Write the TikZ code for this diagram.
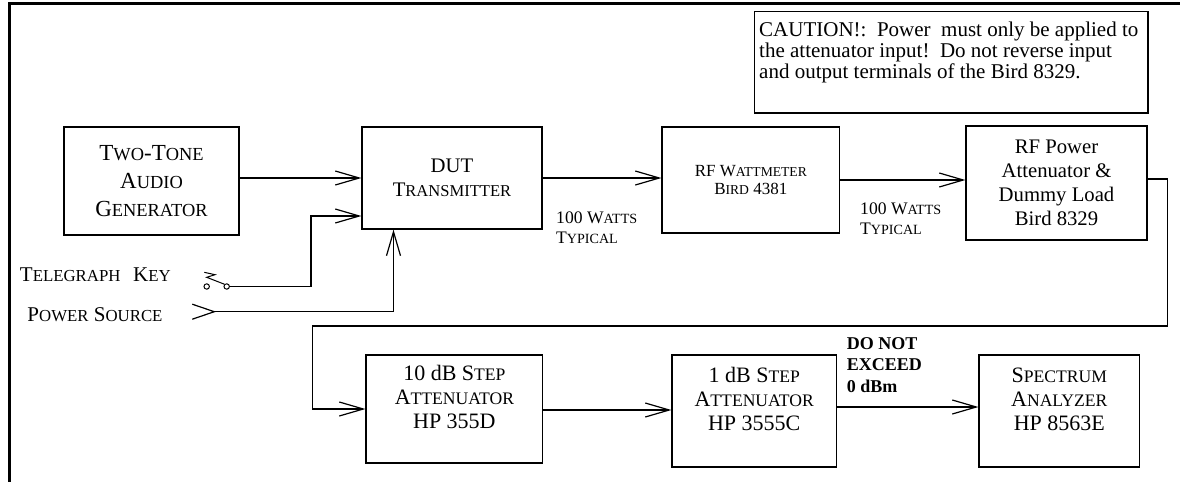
\documentclass[tikz,border=0pt]{standalone}
\usepackage{fontspec}
\setmainfont{Liberation Serif}
\usetikzlibrary{arrows.meta,calc}
\makeatletter
\newcommand\SCx[1]{{\fontsize{\fpeval{0.8*\f@size}}{\f@baselineskip}\selectfont #1}}
\makeatother
\tikzset{
  box/.style={draw, line width=1.2pt, inner sep=0pt, align=center},
  arr/.style={line width=1.2pt, -{Straight Barb[length=24pt,width=14pt]}},
  ln/.style={line width=1.2pt},
  lbl/.style={inner sep=0pt, align=left},
}
\begin{document}
\begin{tikzpicture}[x=1pt,y=-1pt]
\useasboundingbox (0,0) rectangle (1180,482);
% frame
\draw[line width=3pt] (1180,3) -- (9,3) -- (9,482);

% caution box
\node[box, minimum width=393.5pt, minimum height=101.5pt] (caution) at (951.3,62.3) {};
\node[lbl, anchor=north west, font=\fontsize{21}{21}\selectfont] (cautiontxt) at (759,22)
  {CAUTION!:\ \ Power\ \ must only be applied to\\the attenuator input!\ \ Do not reverse input\\and output terminals of the Bird 8329.};

% top row
\node[box, minimum width=175pt, minimum height=108pt, font=\fontsize{23}{28}\selectfont] (two) at (151.5,181)
  {T\SCx{WO}-T\SCx{ONE}\\A\SCx{UDIO}\\G\SCx{ENERATOR}};
\node[box, minimum width=180pt, minimum height=102pt, font=\fontsize{20.7}{24.5}\selectfont] (dut) at (452,178)
  {DUT\\T\SCx{RANSMITTER}};
\node[box, minimum width=177.5pt, minimum height=106pt, font=\fontsize{17}{18.5}\selectfont] (watt) at (750.8,180)
  {RF W\SCx{ATTMETER}\\B\SCx{IRD} 4381};
\node[box, minimum width=181pt, minimum height=114pt, font=\fontsize{20.7}{23.8}\selectfont] (bird) at (1056.5,183)
  {RF Power\\Attenuator \&\\Dummy Load\\Bird 8329};

% bottom row
\node[box, minimum width=176.7pt, minimum height=108pt, font=\fontsize{22}{24}\selectfont] (att10) at (454.4,409)
  {10 dB S\SCx{TEP}\\A\SCx{TTENUATOR}\\HP 355D\\\mbox{}};
\node[box, minimum width=164.4pt, minimum height=112pt, font=\fontsize{22}{24}\selectfont] (att1) at (754.2,411)
  {1 dB S\SCx{TEP}\\A\SCx{TTENUATOR}\\HP 3555C\\\mbox{}};
\node[box, minimum width=160.5pt, minimum height=112pt, font=\fontsize{22}{24}\selectfont] (spec) at (1059.3,411)
  {S\SCx{PECTRUM}\\A\SCx{NALYZER}\\HP 8563E\\\mbox{}};

% side labels
\node[lbl, font=\fontsize{21}{24}\selectfont] (tele) at (95.3,275) {T\SCx{ELEGRAPH}\hspace{0.6em}K\SCx{EY}};
\node[lbl, font=\fontsize{21}{24}\selectfont] (psrc) at (95,315) {P\SCx{OWER} S\SCx{OURCE}};
\node[lbl, anchor=west, font=\fontsize{17.6}{20}\selectfont] (w1) at (556,228) {100 W\SCx{ATTS}\\T\SCx{YPICAL}};
\node[lbl, anchor=west, font=\fontsize{17.6}{20}\selectfont] (w2) at (860,219) {100 W\SCx{ATTS}\\T\SCx{YPICAL}};
\node[lbl, anchor=west, font=\bfseries\fontsize{18}{21.5}\selectfont] (dne) at (846.7,364.8) {DO NOT\\EXCEED\\0 dBm};

% telegraph key switch
\node[circle, draw, line width=1pt, inner sep=0pt, minimum size=5.4pt] (keyA) at (206.7,286.5) {};
\node[circle, draw, line width=1pt, inner sep=0pt, minimum size=5.4pt] (keyB) at (226.7,286.5) {};
\draw[line width=1pt] (204.3,272.3) -- (215,274.7) -- (206.7,277.3) -- (keyB.north west);

% helper coordinates
\coordinate (tk) at (311,286.5);
\coordinate (y216) at (0,216);
\coordinate (ps) at (214.3,311.7);
\coordinate (psup) at (393.5,311.7);
\coordinate (fbA) at (1167.7,179);
\coordinate (fbB) at (1167.7,326);
\coordinate (fbC) at (312.7,326);
\coordinate (fbD) at (312.7,409);
\coordinate (y410) at (0,410);
\coordinate (y407) at (0,407);

% connectors
\draw[arr] (two.east |- dut.west) -- (dut.west);
\draw[arr] (keyB.east) -- (tk) -- (tk |- y216) -- (dut.west |- y216);
\draw[ln] ($(ps)+(-22,-7.5)$) -- (ps) -- ($(ps)+(-22,7.5)$);
\draw[arr] (ps) -- (psup) -- (psup |- dut.south);
\draw[arr] (dut.east) -- (watt.west |- dut.east);
\draw[arr] (watt.east) -- (bird.west |- watt.east);
\draw[arr] (bird.east |- fbA) -- (fbA) -- (fbB) -- (fbC) -- (fbD) -- (att10.west |- fbD);
\draw[arr] (att10.east |- y410) -- (att1.west |- y410);
\draw[arr] (att1.east |- y407) -- (spec.west |- y407);
\end{tikzpicture}
\end{document}
